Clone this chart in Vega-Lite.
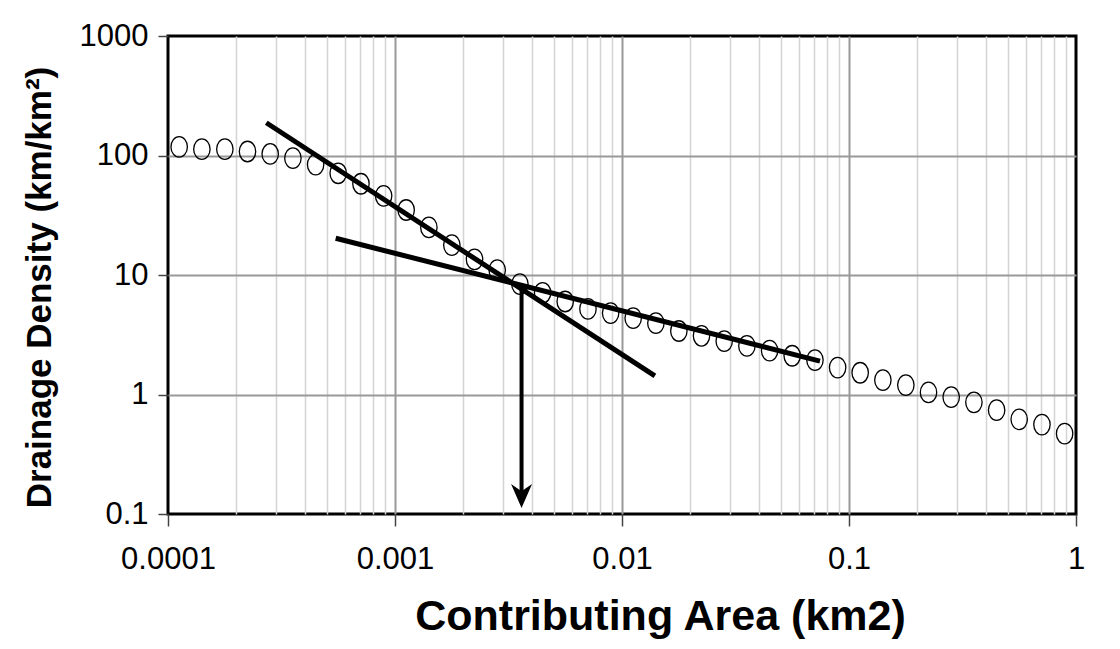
{
  "$schema": "https://vega.github.io/schema/vega-lite/v6.json",
  "width": 908,
  "height": 478,
  "autosize": {"type": "none"},
  "padding": {"left": 168, "top": 36, "right": 44, "bottom": 135},
  "background": "white",
  "config": {
    "view": {"stroke": "black", "strokeWidth": 3},
    "font": "Liberation Sans"
  },
  "datasets": {
    "points": [
      {"area": 0.000112, "density": 118},
      {"area": 0.000141, "density": 113},
      {"area": 0.000178, "density": 113},
      {"area": 0.000224, "density": 108},
      {"area": 0.000282, "density": 103},
      {"area": 0.000355, "density": 95},
      {"area": 0.000447, "density": 84},
      {"area": 0.000562, "density": 71},
      {"area": 0.000708, "density": 58},
      {"area": 0.000891, "density": 46},
      {"area": 0.00112, "density": 35},
      {"area": 0.00141, "density": 25},
      {"area": 0.00178, "density": 17.8},
      {"area": 0.00224, "density": 13.5},
      {"area": 0.00282, "density": 11.0},
      {"area": 0.00355, "density": 8.4},
      {"area": 0.00447, "density": 7.1},
      {"area": 0.00562, "density": 6.0},
      {"area": 0.00708, "density": 5.2},
      {"area": 0.00891, "density": 4.8},
      {"area": 0.0112, "density": 4.35},
      {"area": 0.0141, "density": 3.95},
      {"area": 0.0178, "density": 3.4},
      {"area": 0.0224, "density": 3.1},
      {"area": 0.0282, "density": 2.8},
      {"area": 0.0355, "density": 2.55},
      {"area": 0.0447, "density": 2.33},
      {"area": 0.0562, "density": 2.11},
      {"area": 0.0708, "density": 1.94},
      {"area": 0.0891, "density": 1.68},
      {"area": 0.112, "density": 1.52},
      {"area": 0.141, "density": 1.32},
      {"area": 0.178, "density": 1.2},
      {"area": 0.224, "density": 1.04},
      {"area": 0.282, "density": 0.95},
      {"area": 0.355, "density": 0.86},
      {"area": 0.447, "density": 0.74},
      {"area": 0.562, "density": 0.62},
      {"area": 0.708, "density": 0.56},
      {"area": 0.891, "density": 0.47}
    ],
    "fits": [
      {"fit": "steep", "area": 0.000271, "density": 188},
      {"fit": "steep", "area": 0.01396, "density": 1.43},
      {"fit": "shallow", "area": 0.000548, "density": 20.3},
      {"fit": "shallow", "area": 0.0745, "density": 1.905}
    ],
    "arrow": [
      {"area": 0.00361, "top": 7.8, "bottom": 0.125, "tip": 0.112}
    ]
  },
  "layer": [
    {
      "data": {"name": "points"},
      "mark": {
        "type": "point",
        "shape": "M0,-1 A0.8,1 0 1,1 0,1 A0.8,1 0 1,1 0,-1 Z",
        "size": 420,
        "filled": false,
        "stroke": "black",
        "strokeWidth": 1.3,
        "opacity": 1
      },
      "encoding": {
        "x": {
          "field": "area",
          "type": "quantitative",
          "scale": {"type": "log", "domain": [0.0001, 1]},
          "axis": {
            "orient": "bottom",
            "values": [0.0001, 0.001, 0.01, 0.1, 1],
            "format": ".4~f",
            "grid": true,
            "gridColor": "#999999",
            "gridWidth": 2,
            "gridOpacity": {"condition": {"test": "datum.value <= 0.00011 || datum.value >= 0.99", "value": 0}, "value": 1},
            "domain": false,
            "ticks": true,
            "tickColor": "#444444",
            "tickSize": 12,
            "tickWidth": 1.5,
            "labelFont": "Liberation Sans",
            "labelFontSize": 31,
            "labelColor": "black",
            "labelPadding": 18,
            "labelFlush": false,
            "labelOverlap": false,
            "labelBound": false,
            "title": "Contributing Area (km2)",
            "titleFont": "Liberation Sans",
            "titleFontSize": 43,
            "titleFontWeight": "bold",
            "titleColor": "black",
            "titlePadding": 21,
            "titleX": 492
          }
        },
        "y": {
          "field": "density",
          "type": "quantitative",
          "scale": {"type": "log", "domain": [0.1, 1000]},
          "axis": {
            "values": [0.1, 1, 10, 100, 1000],
            "format": ".1~f",
            "grid": true,
            "gridColor": "#999999",
            "gridWidth": 2,
            "gridOpacity": {"condition": {"test": "datum.value <= 0.11 || datum.value >= 999", "value": 0}, "value": 1},
            "domain": false,
            "tickColor": "#444444",
            "tickSize": 10,
            "tickWidth": 1.5,
            "labelFont": "Liberation Sans",
            "labelFontSize": 31,
            "labelColor": "black",
            "labelPadding": 10,
            "labelFlush": false,
            "labelOverlap": false,
            "labelBound": false,
            "title": "Drainage Density (km/km²)",
            "titleFont": "Liberation Sans",
            "titleFontSize": 35,
            "titleFontWeight": "bold",
            "titleColor": "black",
            "titlePadding": 22,
            "titleY": 251
          }
        }
      }
    },
    {
      "data": {"name": "fits"},
      "mark": {"type": "line", "color": "black", "strokeWidth": 5, "strokeCap": "butt"},
      "encoding": {
        "x": {
          "field": "area",
          "type": "quantitative",
          "scale": {"type": "log", "domain": [0.0001, 1]},
          "axis": {
            "orient": "top",
            "values": [0.0002, 0.0003, 0.0004, 0.0005, 0.0006, 0.0007, 0.0008, 0.0009, 0.002, 0.003, 0.004, 0.005, 0.006, 0.007, 0.008, 0.009, 0.02, 0.03, 0.04, 0.05, 0.06, 0.07, 0.08, 0.09, 0.2, 0.3, 0.4, 0.5, 0.6, 0.7, 0.8, 0.9],
            "grid": true,
            "gridColor": "#d4d4d4",
            "gridWidth": 1.5,
            "domain": false,
            "ticks": false,
            "labels": false,
            "title": null
          }
        },
        "y": {"field": "density", "type": "quantitative"},
        "detail": {"field": "fit"}
      }
    },
    {
      "data": {"name": "arrow"},
      "mark": {"type": "rule", "color": "black", "strokeWidth": 4},
      "encoding": {
        "x": {"field": "area", "type": "quantitative", "axis": null},
        "y": {"field": "top", "type": "quantitative"},
        "y2": {"field": "bottom"}
      }
    },
    {
      "data": {"name": "arrow"},
      "mark": {
        "type": "point",
        "shape": "M0,0 L-1,-2.3 L0,-1.6 L1,-2.3 Z",
        "size": 441,
        "filled": true,
        "color": "black",
        "opacity": 1
      },
      "encoding": {
        "x": {"field": "area", "type": "quantitative", "axis": null},
        "y": {"field": "tip", "type": "quantitative"}
      }
    }
  ],
  "resolve": {"axis": {"x": "independent"}}
}
